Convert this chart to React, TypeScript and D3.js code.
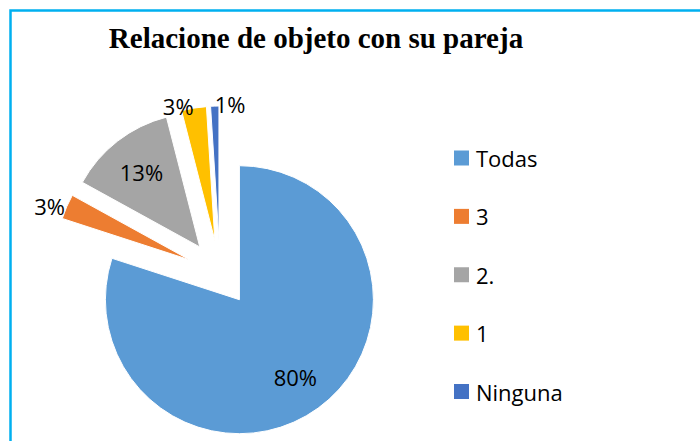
import React from 'react';
import * as d3 from 'd3';

const categories = ['Todas', '3', '2.', '1', 'Ninguna'];
const values = [80, 3, 13, 3, 1];
const colors = ['#5B9BD5', '#ED7D31', '#A5A5A5', '#FFC000', '#4472C4'];
const title = 'Relacione de objeto con su pareja';

const W = 700;
const H = 441;
const cx = 220;
const cy = 273;
const radius = 134;
const explode = 33;
const labelFont = "'Open Sans', 'Noto Sans', sans-serif";

const App: React.FC = () => {
  const pie = d3.pie<number>().value((d) => d).sort(null);
  const arcs = pie(values);
  const arc = d3.arc<d3.PieArcDatum<number>>().innerRadius(0).outerRadius(radius);
  const insideArc = d3.arc<d3.PieArcDatum<number>>().innerRadius(radius * 0.71).outerRadius(radius * 0.71);

  const legendY = d3.scalePoint<string>().domain(categories).range([158, 391.5]);

  return (
    <svg width={W} height={H} style={{ position: 'fixed', left: 0, top: 0, background: '#fff' }}>
      <rect x={10.5} y={10.5} width={W + 20} height={H + 20} fill="#fff" stroke="#00B0F0" strokeWidth={2.5} />
      <text x={316} y={48} textAnchor="middle" fontFamily="'Liberation Serif', 'Times New Roman', serif"
        fontWeight="bold" fontSize={29} fill="#000">{title}</text>

      <g transform={`translate(${cx},${cy})`}>
        {arcs.map((a, i) => {
          const mid = (a.startAngle + a.endAngle) / 2;
          const dx = Math.sin(mid) * explode;
          const dy = -Math.cos(mid) * explode;
          const pct = Math.round((a.value / d3.sum(values)) * 100) + '%';
          const inside = a.value >= 10;
          let lx: number, ly: number, anchor = 'middle';
          if (inside) {
            [lx, ly] = insideArc.centroid(a);
          } else {
            const r = radius + 2;
            lx = Math.sin(mid) * r;
            ly = -Math.cos(mid) * r;
            anchor = Math.sin(mid) < -0.1 ? 'end' : 'start';
          }
          return (
            <g key={categories[i]} transform={`translate(${dx},${dy})`}>
              <path d={arc(a) || ''} fill={colors[i]} stroke="#fff" strokeWidth={1} />
              <text x={lx} y={ly} textAnchor={anchor} dominantBaseline="central"
                fontFamily={labelFont} fontSize={22} fill="#000">{pct}</text>
            </g>
          );
        })}
      </g>

      <g>
        {categories.map((c, i) => (
          <g key={c} transform={`translate(454,${legendY(c)})`}>
            <rect x={0} y={-7.5} width={15} height={15} fill={colors[i]} />
            <text x={22} y={0} dominantBaseline="central" fontFamily={labelFont} fontSize={22} fill="#000">{c}</text>
          </g>
        ))}
      </g>
    </svg>
  );
};

export default App;
